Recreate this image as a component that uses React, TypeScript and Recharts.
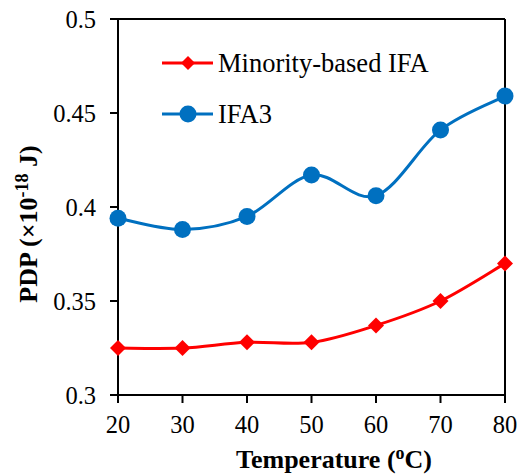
import { LineChart, Line, XAxis, YAxis, ReferenceLine } from 'recharts';

const temps = [20, 30, 40, 50, 60, 70, 80];
const minorityIFA = [0.325, 0.325, 0.328, 0.328, 0.337, 0.35, 0.37];
const ifa3 = [0.394, 0.388, 0.395, 0.417, 0.406, 0.441, 0.459];
const yTicks = [0.3, 0.35, 0.4, 0.45, 0.5];
const xTicks = [20, 30, 40, 50, 60, 70, 80];

const RED = '#FF0000';
const BLUE = '#0070C0';
const FONT = '"Liberation Serif", "Times New Roman", serif';

const data = temps.map((t, i) => ({ t, minority: minorityIFA[i], ifa3: ifa3[i] }));

// Excel-like smoothed line (Catmull-Rom through the points)
function excelCurve(context: any) {
  let pts: number[][] = [];
  return {
    areaStart() {},
    areaEnd() {},
    lineStart() {
      pts = [];
    },
    point(x: number, y: number) {
      pts.push([+x, +y]);
    },
    lineEnd() {
      if (!pts.length) return;
      context.moveTo(pts[0][0], pts[0][1]);
      for (let i = 0; i < pts.length - 1; i++) {
        const p0 = pts[i - 1] || pts[i];
        const p1 = pts[i];
        const p2 = pts[i + 1];
        const p3 = pts[i + 2] || p2;
        context.bezierCurveTo(
          p1[0] + (p2[0] - p0[0]) / 6,
          p1[1] + (p2[1] - p0[1]) / 6,
          p2[0] - (p3[0] - p1[0]) / 6,
          p2[1] - (p3[1] - p1[1]) / 6,
          p2[0],
          p2[1]
        );
      }
    },
  };
}

function Diamond({ cx, cy, size = 8 }: any) {
  if (cx == null || cy == null) return null;
  return (
    <polygon
      points={`${cx},${cy - size} ${cx + size},${cy} ${cx},${cy + size} ${cx - size},${cy}`}
      fill={RED}
    />
  );
}

function Circle({ cx, cy }: any) {
  if (cx == null || cy == null) return null;
  return <circle cx={cx} cy={cy} r={8.5} fill={BLUE} />;
}

const legendRows = [
  { name: 'Minority-based IFA', color: RED, kind: 'diamond' },
  { name: 'IFA3', color: BLUE, kind: 'circle' },
];

function LegendBox() {
  return (
    <svg width={340} height={110} style={{ position: 'absolute', left: 160, top: 41, overflow: 'visible' }}>
      {legendRows.map((r, i) => {
        const y = 22 + i * 51;
        return (
          <g key={r.name}>
            <line x1={2} x2={53} y1={y} y2={y} stroke={r.color} strokeWidth={3} />
            {r.kind === 'diamond' ? <Diamond cx={28} cy={y} size={7} /> : <circle cx={28} cy={y} r={8.5} fill={BLUE} />}
            <text x={58} y={y} dy="0.35em" fontFamily={FONT} fontSize={26.5} fill="#000">
              {r.name}
            </text>
          </g>
        );
      })}
    </svg>
  );
}

function YTitle() {
  return (
    <text
      transform="translate(37, 224) rotate(-90)"
      textAnchor="middle"
      fontFamily={FONT}
      fontSize={26}
      fontWeight="bold"
      fill="#000"
    >
      PDP (×10
      <tspan dy={-9} fontSize={18}>-18</tspan>
      <tspan dy={9}> J)</tspan>
    </text>
  );
}

function XTitle() {
  return (
    <text x={334} y={468} textAnchor="middle" fontFamily={FONT} fontSize={26} fontWeight="bold" fill="#000">
      Temperature (
      <tspan dy={-9} fontSize={18}>o</tspan>
      <tspan dy={9}>C)</tspan>
    </text>
  );
}

export default function App() {
  const tickStyle = { fontFamily: FONT, fontSize: 24.5, fill: '#000' };
  return (
    <div style={{ position: 'absolute', left: 0, top: 0, width: 530, height: 476, background: '#fff' }}>
      <LineChart width={530} height={476} data={data} margin={{ top: 19, right: 25, bottom: 31, left: 0 }}>
        <XAxis
          dataKey="t"
          type="number"
          domain={[20, 80]}
          ticks={xTicks}
          height={50}
          tick={tickStyle}
          tickSize={8}
          tickMargin={13}
          axisLine={{ stroke: '#000', strokeWidth: 2 }}
          tickLine={{ stroke: '#000', strokeWidth: 2 }}
          label={<XTitle />}
        />
        <YAxis
          type="number"
          domain={[0.3, 0.5]}
          ticks={yTicks}
          width={118}
          tick={tickStyle}
          tickSize={8}
          tickMargin={14}
          axisLine={{ stroke: '#000', strokeWidth: 2 }}
          tickLine={{ stroke: '#000', strokeWidth: 2 }}
          label={<YTitle />}
        />
        <ReferenceLine y={0.5} stroke="#000" strokeWidth={2} />
        <ReferenceLine x={80} stroke="#000" strokeWidth={2} />
        <Line
          dataKey="minority"
          name="Minority-based IFA"
          type={excelCurve as any}
          stroke={RED}
          strokeWidth={3}
          dot={<Diamond />}
          activeDot={false}
          isAnimationActive={false}
        />
        <Line
          dataKey="ifa3"
          name="IFA3"
          type={excelCurve as any}
          stroke={BLUE}
          strokeWidth={3}
          dot={<Circle />}
          activeDot={false}
          isAnimationActive={false}
        />
      </LineChart>
      <LegendBox />
    </div>
  );
}
